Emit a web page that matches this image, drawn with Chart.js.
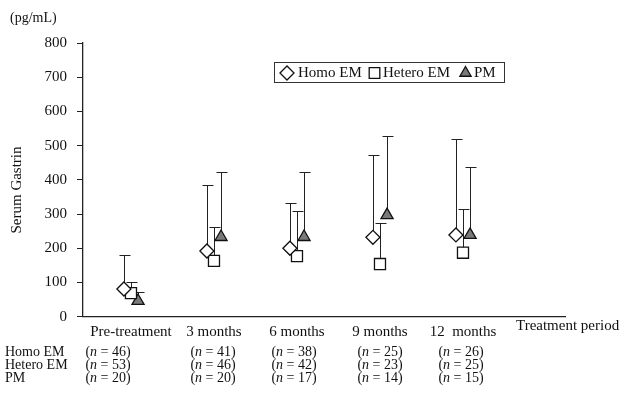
<!DOCTYPE html>
<html>
<head>
<meta charset="utf-8">
<script src="https://cdn.jsdelivr.net/npm/chart.js@4/dist/chart.umd.min.js"></script>
<style>
html,body{margin:0;padding:0;background:#fff;}
#wrap{position:relative;width:634px;height:405px;}
</style>
</head>
<body>
<div id="wrap"><canvas id="c" width="634" height="405"></canvas></div>
<script>
const categories = ['Pre-treatment', '3 months', '6 months', '9 months', '12  months'];
const homoEM = [81, 192, 200, 232, 239];
const homoEMUpper = [180, 385, 331, 474, 518];
const heteroEM = [69, 163, 177, 154, 187];
const heteroEMUpper = [101, 263, 309, 273, 314];
const pm = [46, 233, 233, 297, 239];
const pmUpper = [73, 423, 422, 528, 438];
const nHomoEM = [46, 41, 38, 25, 26];
const nHeteroEM = [53, 46, 42, 23, 25];
const nPM = [20, 20, 17, 14, 15];
const yTicks = [0, 100, 200, 300, 400, 500, 600, 700, 800];
const seriesNames = ['Homo EM', 'Hetero EM', 'PM'];

const FONT = '"Liberation Serif", "Times New Roman", serif';
const DODGE = 0.085;

function pts(vals, upper, off) {
  return vals.map((v, i) => ({x: i + off, y: v, up: upper[i]}));
}

const errorBars = {
  id: 'errorBars',
  beforeDatasetsDraw(chart) {
    const ctx = chart.ctx, xs = chart.scales.x, ys = chart.scales.y;
    ctx.save();
    ctx.strokeStyle = '#222';
    ctx.lineWidth = 1;
    chart.data.datasets.forEach(ds => {
      ds.data.forEach(p => {
        const x = Math.round(xs.getPixelForValue(p.x)) + 0.5;
        const y0 = ys.getPixelForValue(p.y);
        const y1 = Math.round(ys.getPixelForValue(p.up)) + 0.5;
        ctx.beginPath();
        ctx.moveTo(x, y0); ctx.lineTo(x, y1);
        ctx.moveTo(x - 5, y1); ctx.lineTo(x + 6, y1);
        ctx.stroke();
      });
    });
    ctx.restore();
  }
};

const extras = {
  id: 'extras',
  afterDraw(chart) {
    const ctx = chart.ctx;
    ctx.save();
    ctx.fillStyle = '#111';
    ctx.textBaseline = 'middle';
    ctx.font = '14px ' + FONT;
    ctx.textAlign = 'left';
    ctx.fillText('(pg/mL)', 10, 18);
    ctx.save();
    ctx.translate(17, 190);
    ctx.rotate(-Math.PI / 2);
    ctx.textAlign = 'center';
    ctx.font = '15px ' + FONT;
    ctx.fillText('Serum Gastrin', 0, 0);
    ctx.restore();
    ctx.font = '15px ' + FONT;
    ctx.textAlign = 'left';
    ctx.fillText('Treatment period', 516, 326);
    // legend
    const lx = 274, ly = 62, lw = 230, lh = 20;
    ctx.strokeStyle = '#333';
    ctx.lineWidth = 1;
    ctx.strokeRect(lx + 0.5, ly + 0.5, lw, lh);
    const cy = ly + lh / 2 + 1;
    const dsets = chart.data.datasets;
    const items = [
      {ds: dsets[0], mx: 287, tx: 298, r: 7},
      {ds: dsets[1], mx: 374.5, tx: 383, r: 7.5},
      {ds: dsets[2], mx: 465.5, tx: 474, r: 6.5}
    ];
    ctx.font = '15px ' + FONT;
    items.forEach(it => {
      ctx.fillStyle = it.ds.backgroundColor;
      ctx.strokeStyle = it.ds.borderColor;
      ctx.lineWidth = 1.3;
      Chart.helpers.drawPoint(ctx, {pointStyle: it.ds.pointStyle, radius: it.r, borderWidth: 1.3}, it.mx, cy);
      ctx.fillStyle = '#111';
      ctx.textAlign = 'left';
      ctx.fillText(it.ds.label, it.tx, cy);
    });
    // table
    const rows = [nHomoEM, nHeteroEM, nPM];
    const colX = [108, 213, 294, 380, 461];
    const sz = 14;
    rows.forEach((r, ri) => {
      const y = 352 + ri * 13;
      ctx.font = sz + 'px ' + FONT;
      ctx.textAlign = 'left';
      ctx.fillText(seriesNames[ri], 5, y);
      r.forEach((n, ci) => {
        const parts = ['(', 'n', ' = ' + n + ')'];
        const fonts = [sz + 'px ' + FONT, 'italic ' + sz + 'px ' + FONT, sz + 'px ' + FONT];
        let total = 0;
        parts.forEach((p, k) => { ctx.font = fonts[k]; total += ctx.measureText(p).width; });
        let x = colX[ci] - total / 2;
        ctx.textAlign = 'left';
        parts.forEach((p, k) => { ctx.font = fonts[k]; ctx.fillText(p, x, y); x += ctx.measureText(p).width; });
      });
    });
    ctx.restore();
  }
};

new Chart(document.getElementById('c'), {
  type: 'scatter',
  data: {
    datasets: [
      {label: seriesNames[0], data: pts(homoEM, homoEMUpper, -DODGE), pointStyle: 'rectRot', pointRadius: 7, pointHoverRadius: 7,
       backgroundColor: '#ffffff', borderColor: '#111', pointBorderWidth: 1.3},
      {label: seriesNames[1], data: pts(heteroEM, heteroEMUpper, 0), pointStyle: 'rect', pointRadius: 7.8, pointHoverRadius: 7.8,
       backgroundColor: '#ffffff', borderColor: '#111', pointBorderWidth: 1.3},
      {label: seriesNames[2], data: pts(pm, pmUpper, DODGE), pointStyle: 'triangle', pointRadius: 7, pointHoverRadius: 7,
       backgroundColor: '#7a7a7a', borderColor: '#111', pointBorderWidth: 1.3}
    ]
  },
  options: {
    responsive: false,
    animation: false,
    events: [],
    layout: {padding: {top: 43, right: 69, left: 0, bottom: 0}},
    plugins: {legend: {display: false}, tooltip: {enabled: false}},
    scales: {
      x: {
        type: 'linear', min: -0.578, max: 5.229,
        afterBuildTicks(s) { s.ticks = categories.map((c, i) => ({value: i})); },
        afterFit(s) { s.height = 88.3; },
        grid: {display: false, drawTicks: false},
        border: {display: true, color: '#222', width: 1.3},
        ticks: {
          padding: 6, color: '#111', font: {family: FONT, size: 15},
          maxRotation: 0, autoSkip: false,
          callback: v => categories[v] !== undefined ? categories[v] : ''
        }
      },
      y: {
        min: 0, max: 800,
        afterBuildTicks(s) { s.ticks = yTicks.map(v => ({value: v})); },
        afterFit(s) { s.width = 83; },
        grid: {drawOnChartArea: false, drawTicks: true, tickLength: 6, color: '#222'},
        border: {display: true, color: '#222', width: 1.3},
        ticks: {padding: 10, color: '#111', font: {family: FONT, size: 15}}
      }
    }
  },
  plugins: [errorBars, extras]
});
</script>
</body>
</html>
